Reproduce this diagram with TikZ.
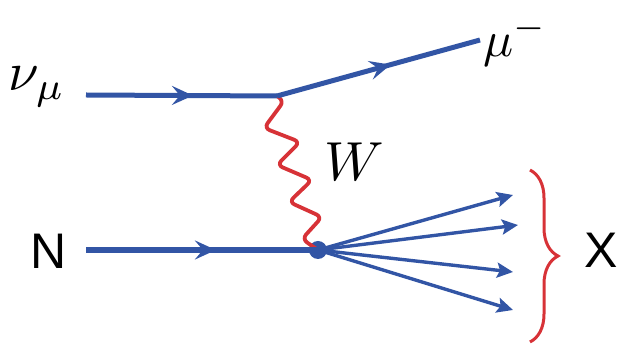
\documentclass[tikz,border=0pt]{standalone}
\usepackage{graphicx}
\usepackage{fontspec}
\newfontfamily\arialfont{Liberation Sans}
\usetikzlibrary{decorations.markings,decorations.pathreplacing,arrows.meta}
\definecolor{fblue}{RGB}{50,85,165}
\definecolor{fred}{RGB}{215,50,55}
\tikzset{
  fermion/.style={color=fblue, line width=#1, postaction={decorate},
    decoration={markings, mark=at position 0.56 with {\arrow{Stealth[length=21pt,width=19pt,inset=8pt]}}}},
  outgoing/.style={color=fblue, line width=3.4pt, -{Stealth[length=16pt,width=15pt,inset=3pt]}},
  boson/.style={color=fred, line width=3.8pt, rounded corners=6pt, line join=round, line cap=round},
  lbl/.style={inner sep=0pt},
}
\begin{document}
\begin{tikzpicture}[x=1pt,y=-1pt]
\useasboundingbox (0,0) rectangle (619,344);
% vertices
\coordinate (nuin) at (86,95);
\coordinate (v1) at (277,96);
\coordinate (muout) at (480,40);
\coordinate (nin) at (86,250);
\node[circle, fill=fblue, inner sep=0pt, minimum size=18pt] (v2) at (318,250) {};
\coordinate (x1) at (513,195);
\coordinate (x2) at (518,225);
\coordinate (x3) at (513,272);
\coordinate (x4) at (513,310);
% lines
\draw[boson] (v1) -- (284,101) -- (264,128) -- (300,142) -- (277,165) -- (312,180) -- (289,202) -- (322,217) -- (302,239) -- (v2.center);
\draw[fermion=5pt] (nuin) -- (v1);
\draw[fermion=5pt] (v1) -- (muout);
\draw[fermion=6pt] (nin) -- (v2.center);
\foreach \t in {x1,x2,x3,x4} \draw[outgoing] (v2.center) -- (\t);
% brace
\coordinate (bt) at (530,170);
\coordinate (bb) at (530,342);
\draw[color=fred, line width=3pt, decorate, decoration={brace, amplitude=28pt}] (bt) -- (bb);
% labels
\node[lbl] (lnu) at (37,87) {\scalebox{5.5}{$\nu_\mu$}};
\node[lbl] (lmu) at (515,41) {\scalebox{5}{$\mu^-$}};
\node[lbl] (lw) at (354,162) {\scalebox{5.5}{$W$}};
\node[lbl, font=\arialfont\fontsize{50}{60}\selectfont] (ln) at (49,251) {N};
\node[lbl, font=\arialfont\fontsize{50}{60}\selectfont] (lx) at (601,250) {X};
\end{tikzpicture}
\end{document}
